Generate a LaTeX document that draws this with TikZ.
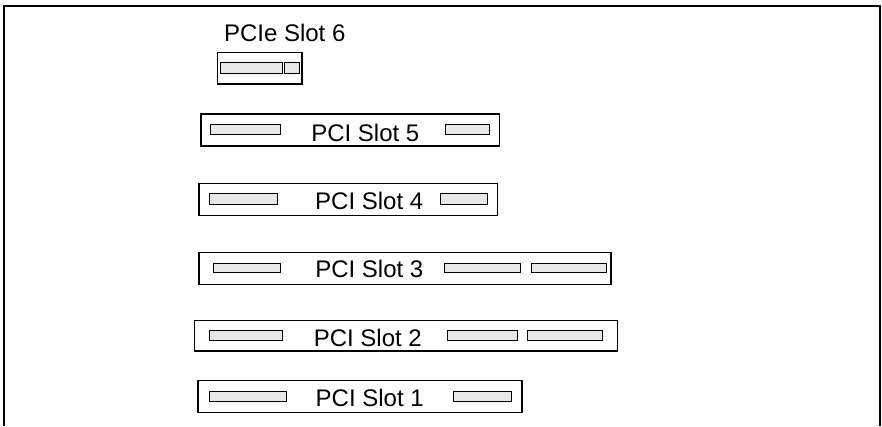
\documentclass[tikz,border=0pt]{standalone}
\usepackage{fontspec}
\setmainfont{Liberation Sans}

\begin{document}
\begin{tikzpicture}[x=1pt,y=-1pt,
    slotbox/.style={draw,line width=1.3pt},
    cardbar/.style={draw,fill=gray!18,line width=1pt},
    slotlabel/.style={font=\fontsize{24}{28}\selectfont,inner sep=0pt,anchor=base}]
    \useasboundingbox (0,0) rectangle (882,426);
    \draw[line width=1.2pt] (4,426) -- (4,6) -- (880,6) -- (880,426);

    % slot 6
    \node[slotlabel] (s6) at (284.7,41.7) {PCIe Slot 6};
    \draw[slotbox] (217.3,52.3) rectangle (302,84);
    \draw[cardbar] (220.3,62.3) rectangle (282.7,73.3);
    \draw[cardbar] (284.3,62.3) rectangle (299,73.3);

    % slot 5
    \draw[slotbox] (201,114) rectangle (499.3,146);
    \draw[cardbar] (210.7,124.3) rectangle (280.7,134);
    \draw[cardbar] (445.7,124.3) rectangle (489,134);
    \node[slotlabel] (s5) at (365.3,141) {PCI Slot 5};

    % slot 4
    \draw[slotbox] (199,183.3) rectangle (497.7,215.7);
    \draw[cardbar] (209.3,193.3) rectangle (277.3,204.3);
    \draw[cardbar] (440.7,193.3) rectangle (487.7,204.3);
    \node[slotlabel] (s4) at (369.2,209) {PCI Slot 4};

    % slot 3
    \draw[slotbox] (199,252.3) rectangle (611,284.3);
    \draw[cardbar] (213.3,263) rectangle (280,272.3);
    \draw[cardbar] (444,263) rectangle (520,272.3);
    \draw[cardbar] (531.7,263) rectangle (606,272.3);
    \node[slotlabel] (s3) at (369.3,277.7) {PCI Slot 3};

    % slot 2
    \draw[slotbox] (194.3,320.7) rectangle (617.3,351);
    \draw[cardbar] (209,330.7) rectangle (282.3,340);
    \draw[cardbar] (447.3,330.7) rectangle (517.3,340);
    \draw[cardbar] (527.7,330.7) rectangle (602.3,340);
    \node[slotlabel] (s2) at (367.8,346.7) {PCI Slot 2};

    % slot 1
    \draw[slotbox] (198,380.7) rectangle (522,412.3);
    \draw[cardbar] (209,391) rectangle (286,401);
    \draw[cardbar] (453.3,391) rectangle (511,401);
    \node[slotlabel] (s1) at (369.7,406) {PCI Slot 1};
\end{tikzpicture}
\end{document}
